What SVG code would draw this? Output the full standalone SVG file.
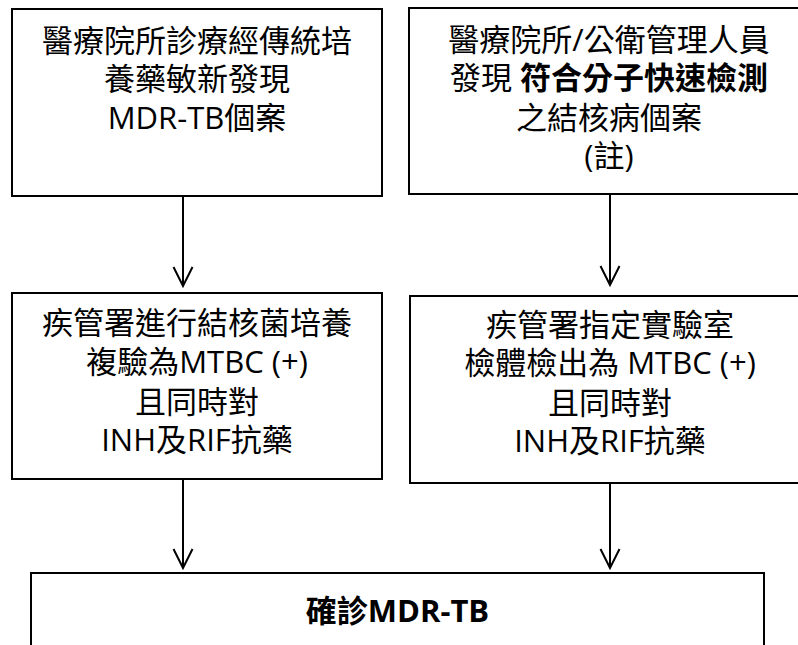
<svg xmlns="http://www.w3.org/2000/svg" width="798" height="645" viewBox="0 0 798 645">
<defs>
<style>
.box{fill:#fff;stroke:#000;stroke-width:2}
.t{font-family:"Open Sans","Noto Sans CJK TC","Microsoft JhengHei",sans-serif;font-size:31px;fill:#000;text-anchor:middle}
.b{font-weight:bold}
.c{stroke:#000;stroke-width:2;fill:none}
</style>
<marker id="arr" markerUnits="userSpaceOnUse" markerWidth="24" markerHeight="24" viewBox="-22 -12 24 24" refX="0" refY="0" orient="auto">
<path d="M-19,-9.5 L0,0 L-19,9.5" fill="none" stroke="#000" stroke-width="2"/>
</marker>
</defs>
<rect width="798" height="645" fill="#fff"/>
<g id="connectors">
<line class="c" x1="183" y1="196" x2="183" y2="286" marker-end="url(#arr)"/>
<line class="c" x1="610" y1="194" x2="610" y2="285" marker-end="url(#arr)"/>
<line class="c" x1="183" y1="479" x2="183" y2="568" marker-end="url(#arr)"/>
<line class="c" x1="610" y1="483" x2="610" y2="568" marker-end="url(#arr)"/>
</g>
<g id="n1">
<rect class="box" x="12" y="9" width="370" height="187"/>
<text class="t" x="197" y="52">醫療院所診療經傳統培</text>
<text class="t" x="197" y="90">養藥敏新發現</text>
<text class="t" x="197" y="129">MDR-TB個案</text>
</g>
<g id="n2">
<rect class="box" x="409" y="8" width="401" height="186"/>
<text class="t" x="609" y="51">醫療院所/公衛管理人員</text>
<text class="t" x="609" y="89">發現 <tspan class="b">符合分子快速檢測</tspan></text>
<text class="t" x="609" y="129">之結核病個案</text>
<text class="t" x="609" y="167">(註)</text>
</g>
<g id="n3">
<rect class="box" x="12" y="293" width="370" height="186"/>
<text class="t" x="197" y="334">疾管署進行結核菌培養</text>
<text class="t" x="197" y="373">複驗為MTBC (+)</text>
<text class="t" x="197" y="413">且同時對</text>
<text class="t" x="197" y="451">INH及RIF抗藥</text>
</g>
<g id="n4">
<rect class="box" x="410" y="296" width="400" height="187"/>
<text class="t" x="610" y="336">疾管署指定實驗室</text>
<text class="t" x="610" y="374">檢體檢出為 MTBC (+)</text>
<text class="t" x="610" y="414">且同時對</text>
<text class="t" x="610" y="452">INH及RIF抗藥</text>
</g>
<g id="n5">
<rect class="box" x="31" y="573" width="733" height="100"/>
<text class="t b" x="397.5" y="622">確診MDR-TB</text>
</g>
</svg>
